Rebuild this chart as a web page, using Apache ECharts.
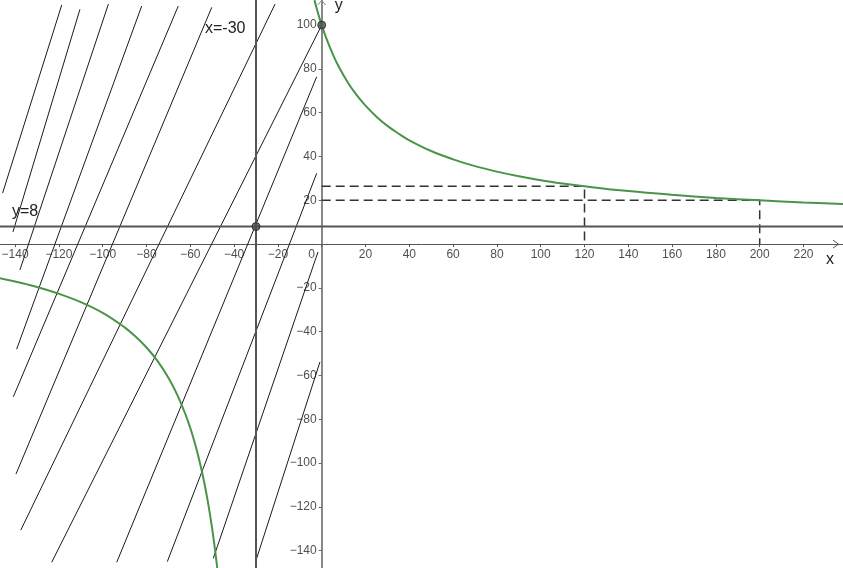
<!DOCTYPE html>
<html><head><meta charset="utf-8">
<script src="https://cdn.jsdelivr.net/npm/echarts/dist/echarts.min.js"></script>
<style>html,body{margin:0;padding:0;background:#fff}#c{width:843px;height:568px}</style>
</head><body><div id="c"></div>
<script>
// hyperbola branches
const upperX = [-3.3,-2,-1,0,2,5,8,12,16,20,25,30,35,40,50,60,70,80,90,100,110,120,140,160,180,200,220,240];
const upperY = [111.4,106.6,103.2,100,94.3,86.9,80.6,73.7,68,63.2,58.2,54,50.5,47.4,42.5,38.7,35.6,33.1,31,29.2,27.7,26.4,24.2,22.5,21.1,20,19,18.2];
const lowerX = [-160,-150,-140,-130,-120,-110,-100,-90,-85,-80,-75,-70,-66,-62,-60,-58,-56,-54,-52,-50,-48,-46];
const lowerY = [-13.2,-15,-17.1,-19.6,-22.7,-26.5,-31.4,-38,-42.2,-47.2,-53.3,-61,-68.7,-78.3,-84,-90.6,-98.2,-107,-117.5,-130,-145.3,-164.5];
// thin straight segments
const hatchX1 = [-118.7,-110.4,-97.4,-82.2,-65.5,-50.2,-21.3,0,-2.3,-2.3,-1.7,-0.8];
const hatchY1 = [109.2,107.2,109.6,108.7,108.7,108.1,109.6,100,76.4,32.3,-3.6,-53.8];
const hatchX2 = [-145.7,-141,-137.8,-139.3,-140.8,-139.6,-137.4,-123.3,-93.6,-70.5,-49.5,-29.7];
const hatchY2 = [23.3,5.5,-11.8,-48.0,-69.7,-105.0,-130.6,-145.3,-145.3,-145.0,-143.5,-143.5];
// asymptotes and marked points
const asymX = -30, asymY = 8;
const markX = [120,200];
const markY = [26.4,20];
const ptX = [-30,0];
const ptY = [8,100];
// tick labels
const xTickVals = [-140,-120,-100,-80,-60,-40,-20,20,40,60,80,100,120,140,160,180,200,220];
const yTickVals = [100,80,60,40,20,-20,-40,-60,-80,-100,-120,-140];
const xRange = [-160,240], yRange = [-160,120];

const chart = echarts.init(document.getElementById('c'));
const FONT = 'Liberation Sans';
const fmt = v => v < 0 ? '\u2212' + Math.abs(v) : String(v);
const series = [];
for (let i = 0; i < hatchX1.length; i++) {
  series.push({type:'line', symbol:'none', silent:true, z:1,
    lineStyle:{color:'#1a1a1a', width:1},
    data:[[hatchX1[i],hatchY1[i]],[hatchX2[i],hatchY2[i]]]});
}
for (let i = 0; i < markX.length; i++) {
  series.push({type:'line', symbol:'none', z:3,
    lineStyle:{color:'#333', width:1.5, type:[9,5]},
    data:[[0,markY[i]],[markX[i],markY[i]],[markX[i],0]]});
}
series.push({type:'line', symbol:'none', z:3, lineStyle:{color:'#555', width:2},
  data:[[asymX,yRange[0]],[asymX,yRange[1]]]});
series.push({type:'line', symbol:'none', z:3, lineStyle:{color:'#555', width:2},
  data:[[xRange[0],asymY],[xRange[1],asymY]]});
series.push({type:'line', symbol:'none', z:4, smooth:0.4,
  lineStyle:{color:'#4a9448', width:2}, data:upperX.map((x,i)=>[x,upperY[i]])});
series.push({type:'line', symbol:'none', z:4, smooth:0.4,
  lineStyle:{color:'#4a9448', width:2}, data:lowerX.map((x,i)=>[x,lowerY[i]])});
series.push({type:'scatter', z:5, symbolSize:8,
  itemStyle:{color:'#4d4d4d', borderColor:'#222', borderWidth:1},
  data:ptX.map((x,i)=>[x,ptY[i]])});
// axis tick labels drawn at the axes
const lab = {show:true, color:'#222', fontFamily:FONT, fontSize:12};
series.push({type:'scatter', symbolSize:0, silent:true, z:6,
  label:Object.assign({position:'bottom', distance:5, formatter:p=>fmt(p.value[0])}, lab),
  data:xTickVals.map(v=>[v,0])});
series.push({type:'scatter', symbolSize:0, silent:true, z:6,
  label:Object.assign({position:'left', distance:5, formatter:p=>fmt(p.value[1])}, lab),
  data:yTickVals.map(v=>[0,v])});
series.push({type:'scatter', symbolSize:0, silent:true, z:6,
  label:Object.assign({position:'bottom', distance:5, offset:[-10,0], formatter:'0'}, lab),
  data:[[0,0]]});

chart.setOption({
  animation:false,
  grid:{left:-28.7, right:-4.3, top:-18.7, bottom:-26.5, containLabel:false, outerBoundsMode:'none'},
  xAxis:{type:'value', min:xRange[0], max:xRange[1], interval:20,
    axisLine:{onZero:true, lineStyle:{color:'#555', width:1}},
    axisTick:{show:true, length:3, lineStyle:{color:'#555'}},
    splitLine:{show:false}, axisLabel:{show:false}},
  yAxis:{type:'value', min:yRange[0], max:yRange[1], interval:20,
    axisLine:{onZero:true, lineStyle:{color:'#888', width:2}},
    axisTick:{show:true, length:3, lineStyle:{color:'#666'}},
    splitLine:{show:false}, axisLabel:{show:false}},
  series:series
});

const ox = chart.convertToPixel({xAxisIndex:0}, 0);
const oy = chart.convertToPixel({yAxisIndex:0}, 0);
chart.setOption({graphic:[
  {type:'text', left:205, top:21, z:10, style:{text:'x=-30', fontSize:16, fontFamily:FONT, fill:'#222'}},
  {type:'text', left:12, top:204, z:10, style:{text:'y=8', fontSize:16, fontFamily:FONT, fill:'#222'}},
  {type:'text', left:826, top:252, z:10, style:{text:'x', fontSize:16, fontFamily:FONT, fill:'#222'}},
  {type:'text', left:ox+13, top:-2, z:10, style:{text:'y', fontSize:16, fontFamily:FONT, fill:'#222'}},
  {type:'polyline', z:10, shape:{points:[[833,oy-4],[838.5,oy],[833,oy+4]]}, style:{stroke:'#555', lineWidth:1, fill:null}},
  {type:'polyline', z:10, shape:{points:[[ox-4,5],[ox,0.5],[ox+4,5]]}, style:{stroke:'#888', lineWidth:1, fill:null}}
]});
</script></body></html>
